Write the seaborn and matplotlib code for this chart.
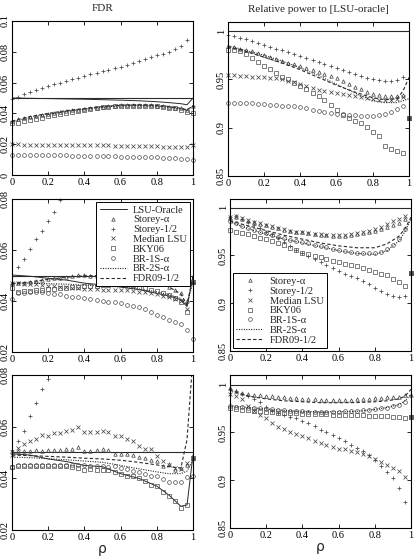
import matplotlib
matplotlib.use('Agg')
import matplotlib.pyplot as plt
from matplotlib.ticker import FuncFormatter
import numpy as np
import seaborn as sns

# correlation grid used for the marker series
rho = [0.0, 0.033, 0.067, 0.1, 0.133, 0.167, 0.2, 0.233, 0.267, 0.3, 0.333,
       0.367, 0.4, 0.433, 0.467, 0.5, 0.533, 0.567, 0.6, 0.633, 0.667, 0.7,
       0.733, 0.767, 0.8, 0.833, 0.867, 0.9, 0.933, 0.967, 1.0]
# coarser grid for the line series
rho_line = [0.0, 0.1, 0.2, 0.3, 0.4, 0.5, 0.6, 0.7, 0.8, 0.867, 0.933, 0.967, 1.0]
nan = np.nan
alpha_level = 0.05

# ---- row 1 : FDR ----
fdr1_storey_a = [0.0350, 0.0362, 0.0370, 0.0378, 0.0385, 0.0391, 0.0398, 0.0405, 0.0410, 0.0415, 0.0420,
                 0.0425, 0.0430, 0.0433, 0.0437, 0.0441, 0.0445, 0.0449, 0.0452, 0.0454, 0.0455, 0.0455,
                 0.0454, 0.0453, 0.0451, 0.0448, 0.0444, 0.0438, 0.0432, 0.0422, 0.0450]
fdr1_storey_h = [0.0495, 0.0509, 0.0523, 0.0537, 0.0551, 0.0564, 0.0578, 0.0589, 0.0600, 0.0610, 0.0621,
                 0.0632, 0.0643, 0.0653, 0.0663, 0.0673, 0.0683, 0.0693, 0.0703, 0.0716, 0.0729, 0.0742,
                 0.0755, 0.0768, 0.0780, 0.0788, 0.0797, 0.0816, 0.0840, 0.0877, 0.0450]
fdr1_median = [0.0199, 0.0199, 0.0198, 0.0198, 0.0197, 0.0197, 0.0197, 0.0196, 0.0196, 0.0195, 0.0195,
               0.0194, 0.0194, 0.0193, 0.0193, 0.0192, 0.0192, 0.0191, 0.0190, 0.0190, 0.0189, 0.0189,
               0.0188, 0.0187, 0.0186, 0.0185, 0.0184, 0.0183, 0.0182, 0.0180, 0.0195]
fdr1_bky = [0.0336, 0.0336, 0.0350, 0.0358, 0.0366, 0.0372, 0.0383, 0.0390, 0.0397, 0.0404, 0.0410,
            0.0415, 0.0422, 0.0428, 0.0434, 0.0440, 0.0444, 0.0448, 0.0450, 0.0451, 0.0451, 0.0450,
            0.0450, 0.0449, 0.0448, 0.0444, 0.0438, 0.0432, 0.0425, 0.0411, 0.0400]
fdr1_br1s = [0.0132, 0.0131, 0.0131, 0.0130, 0.0130, 0.0129, 0.0129, 0.0128, 0.0128, 0.0127, 0.0126,
             0.0126, 0.0125, 0.0124, 0.0124, 0.0123, 0.0122, 0.0121, 0.0120, 0.0119, 0.0118, 0.0117,
             0.0116, 0.0115, 0.0114, 0.0112, 0.0110, 0.0108, 0.0106, 0.0102, 0.0100]
fdr1_oracle = [0.0500, 0.0498, 0.0496, 0.0494, 0.0492, 0.0489, 0.0486, 0.0482, 0.0476, 0.0470, 0.0463, 0.0456, 0.0500]
fdr1_br2s = [0.0345, 0.0375, 0.0395, 0.0413, 0.0427, 0.0440, 0.0450, 0.0452, 0.0448, 0.0440, 0.0430, 0.0420, 0.0448]
fdr1_fdr09 = [0.0350, 0.0380, 0.0400, 0.0418, 0.0432, 0.0444, 0.0453, 0.0455, 0.0452, 0.0445, 0.0433, 0.0423, 0.0450]

# ---- row 1 : relative power ----
pow1_storey_a = [0.985, 0.984, 0.982, 0.981, 0.979, 0.977, 0.975, 0.973, 0.971, 0.969, 0.967,
                 0.9655, 0.964, 0.962, 0.960, 0.958, 0.956, 0.954, 0.951, 0.948, 0.945, 0.942,
                 0.940, 0.937, 0.935, 0.934, 0.933, 0.933, 0.933, 0.934, 0.910]
pow1_storey_h = [0.996, 0.995, 0.993, 0.992, 0.990, 0.988, 0.986, 0.984, 0.982, 0.980, 0.978,
                 0.976, 0.974, 0.972, 0.970, 0.968, 0.966, 0.964, 0.962, 0.960, 0.958, 0.956,
                 0.954, 0.952, 0.950, 0.949, 0.948, 0.948, 0.949, 0.953, 0.910]
pow1_median = [0.955, 0.955, 0.954, 0.954, 0.953, 0.953, 0.953, 0.952, 0.951, 0.950, 0.948,
               0.947, 0.945, 0.943, 0.941, 0.939, 0.938, 0.937, 0.936, 0.935, 0.934, 0.933,
               0.932, 0.931, 0.930, 0.929, 0.929, 0.929, 0.930, 0.932, 0.910]
pow1_bky = [0.981, 0.980, 0.979, 0.976, 0.972, 0.968, 0.964, 0.961, 0.957, 0.953, 0.950,
            0.946, 0.943, 0.940, 0.936, 0.933, 0.929, 0.924, 0.918, 0.913, 0.910, 0.907,
            0.905, 0.901, 0.896, 0.891, 0.881, 0.878, 0.876, 0.874, 0.910]
pow1_br1s = [0.926, 0.926, 0.926, 0.926, 0.926, 0.925, 0.925, 0.924, 0.924, 0.923, 0.923,
             0.922, 0.921, 0.920, 0.918, 0.917, 0.916, 0.915, 0.914, 0.914, 0.913, 0.913,
             0.912, 0.912, 0.912, 0.913, 0.914, 0.916, 0.919, 0.923, 0.910]
pow1_br2s = [0.985, 0.980, 0.975, 0.969, 0.962, 0.954, 0.945, 0.936, 0.928, 0.926, 0.926, 0.928, 0.930]
pow1_fdr09 = [0.984, 0.979, 0.973, 0.967, 0.960, 0.952, 0.944, 0.937, 0.931, 0.929, 0.930, 0.938, 0.952]

# ---- row 2 : FDR (Storey-1/2 leaves the scale above rho ~ 0.27) ----
fdr2_storey_a = [0.0470, 0.0470, 0.0472, 0.0475, 0.0478, 0.0482, 0.0488, 0.0490, 0.0492, 0.0494, 0.0498,
                 0.0502, 0.0501, 0.0500, 0.0500, 0.0500, 0.0501, 0.0501, 0.0502, 0.0501, 0.0500, 0.0492,
                 0.0488, 0.0482, 0.0475, 0.0466, 0.0455, 0.0444, 0.0430, 0.0400, 0.0476]
fdr2_storey_h = [0.0465, 0.0535, 0.0565, 0.0604, 0.0643, 0.0675, 0.0714, 0.0750, 0.0795, nan, nan,
                 nan, nan, nan, nan, nan, nan, nan, nan, nan, nan, nan,
                 nan, nan, nan, nan, nan, nan, nan, nan, 0.0476]
fdr2_median = [0.0470, 0.0470, 0.0468, 0.0467, 0.0465, 0.0463, 0.0460, 0.0458, 0.0456, 0.0454, 0.0452,
               0.0450, 0.0449, 0.0447, 0.0446, 0.0445, 0.0444, 0.0444, 0.0443, 0.0442, 0.0440, 0.0437,
               0.0434, 0.0430, 0.0426, 0.0420, 0.0414, 0.0408, 0.0400, 0.0370, 0.0476]
fdr2_bky = [0.0450, 0.0437, 0.0438, 0.0440, 0.0442, 0.0444, 0.0446, 0.0448, 0.0450, 0.0452, 0.0454,
            0.0456, 0.0458, 0.0459, 0.0460, 0.0462, 0.0464, 0.0465, 0.0466, 0.0465, 0.0462, 0.0456,
            0.0450, 0.0445, 0.0439, 0.0430, 0.0422, 0.0410, 0.0395, 0.0358, 0.0476]
fdr2_br1s = [0.0408, 0.0430, 0.0432, 0.0437, 0.0437, 0.0435, 0.0430, 0.0428, 0.0428, 0.0418, 0.0416,
             0.0414, 0.0412, 0.0408, 0.0404, 0.0399, 0.0397, 0.0395, 0.0392, 0.0386, 0.0379, 0.0375,
             0.0369, 0.0358, 0.0347, 0.0337, 0.0327, 0.0318, 0.0308, 0.0288, 0.0250]
fdr2_oracle = [0.0502, 0.0497, 0.0489, 0.0482, 0.0470, 0.0463, 0.0455, 0.0445, 0.0430, 0.0420, 0.0405, 0.0378, 0.0498]
fdr2_br2s = [0.0470, 0.0470, 0.0468, 0.0466, 0.0462, 0.0458, 0.0455, 0.0447, 0.0436, 0.0425, 0.0410, 0.0385, 0.0476]
fdr2_fdr09 = [0.0468, 0.0475, 0.0485, 0.0493, 0.0499, 0.0500, 0.0501, 0.0492, 0.0474, 0.0455, 0.0428, 0.0385, 0.0498]

# ---- row 2 : relative power ----
pow2_storey_a = [0.989, 0.990, 0.988, 0.986, 0.985, 0.983, 0.9815, 0.980, 0.979, 0.977, 0.976,
                 0.975, 0.974, 0.973, 0.972, 0.9717, 0.971, 0.9706, 0.9706, 0.9708, 0.971, 0.972,
                 0.973, 0.975, 0.976, 0.978, 0.980, 0.982, 0.984, 0.988, 0.932]
pow2_storey_h = [0.990, 0.991, 0.988, 0.985, 0.982, 0.979, 0.975, 0.972, 0.968, 0.964, 0.960,
                 0.956, 0.953, 0.949, 0.946, 0.943, 0.940, 0.937, 0.934, 0.931, 0.928, 0.926,
                 0.923, 0.920, 0.916, 0.913, 0.910, 0.908, 0.906, 0.908, 0.932]
pow2_median = [0.990, 0.991, 0.989, 0.987, 0.985, 0.984, 0.982, 0.981, 0.979, 0.978, 0.976,
               0.975, 0.974, 0.973, 0.972, 0.972, 0.971, 0.971, 0.971, 0.971, 0.972, 0.973,
               0.974, 0.976, 0.978, 0.980, 0.983, 0.986, 0.988, 0.991, 0.932]
pow2_bky = [0.9766, 0.975, 0.9735, 0.972, 0.970, 0.9685, 0.967, 0.965, 0.963, 0.961, 0.958,
            0.9555, 0.953, 0.951, 0.9495, 0.948, 0.9465, 0.9445, 0.943, 0.9415, 0.940, 0.939,
            0.937, 0.935, 0.933, 0.931, 0.929, 0.925, 0.922, 0.918, 0.932]
pow2_br1s = [0.986, 0.984, 0.981, 0.979, 0.977, 0.975, 0.973, 0.971, 0.969, 0.968, 0.966,
             0.965, 0.964, 0.963, 0.961, 0.960, 0.959, 0.957, 0.956, 0.955, 0.954, 0.953,
             0.953, 0.952, 0.952, 0.954, 0.957, 0.961, 0.967, 0.978, 0.932]
pow2_br2s = [0.985, 0.978, 0.972, 0.967, 0.963, 0.959, 0.955, 0.952, 0.951, 0.955, 0.965, 0.975, 0.988]
pow2_fdr09 = [0.986, 0.981, 0.976, 0.971, 0.967, 0.963, 0.960, 0.958, 0.958, 0.962, 0.970, 0.978, 0.990]

# ---- row 3 : FDR (Storey-1/2 leaves the scale above rho ~ 0.2) ----
fdr3_storey_a = [0.0505, 0.0507, 0.0507, 0.0507, 0.0508, 0.0507, 0.0509, 0.0508, 0.0510, 0.0513, 0.0513,
                 0.0521, 0.0507, 0.0507, 0.0510, 0.0513, 0.0510, 0.0496, 0.0496, 0.0494, 0.0492, 0.0483,
                 0.0478, 0.0470, 0.0466, 0.0446, 0.0455, 0.0432, 0.0440, 0.0452, 0.0480]
fdr3_storey_h = [0.0510, 0.0546, 0.0585, 0.0640, 0.0690, 0.0745, 0.0784, nan, nan, nan, nan,
                 nan, nan, nan, nan, nan, nan, nan, nan, nan, nan, nan,
                 nan, nan, nan, nan, nan, nan, nan, nan, 0.0480]
fdr3_median = [0.0490, 0.0518, 0.0531, 0.0546, 0.0552, 0.0566, 0.0562, 0.0575, 0.0575, 0.0584, 0.0588,
               0.0597, 0.0579, 0.0579, 0.0581, 0.0584, 0.0579, 0.0562, 0.0562, 0.0552, 0.0543, 0.0527,
               0.0514, 0.0514, 0.0488, 0.0466, 0.0453, 0.0440, 0.0436, 0.0460, 0.0480]
fdr3_bky = [0.0442, 0.0446, 0.0447, 0.0447, 0.0447, 0.0447, 0.0447, 0.0448, 0.0448, 0.0447, 0.0445,
            0.0440, 0.0434, 0.0435, 0.0434, 0.0434, 0.0433, 0.0425, 0.0415, 0.0410, 0.0410, 0.0403,
            0.0390, 0.0374, 0.0372, 0.0348, 0.0330, 0.0311, 0.0287, 0.0295, 0.0480]
fdr3_br1s = [0.0445, 0.0450, 0.0451, 0.0452, 0.0452, 0.0452, 0.0451, 0.0452, 0.0451, 0.0452, 0.0450,
             0.0452, 0.0450, 0.0448, 0.0446, 0.0446, 0.0445, 0.0446, 0.0440, 0.0435, 0.0430, 0.0425,
             0.0418, 0.0410, 0.0410, 0.0398, 0.0385, 0.0385, 0.0387, 0.0405, 0.0410]
fdr3_oracle = [0.0495, 0.0490, 0.0475, 0.0465, 0.0450, 0.0445, 0.0418, 0.0400, 0.0370, 0.0335, 0.0292, 0.0297, 0.0490]
fdr3_br2s = [0.0482, 0.0480, 0.0476, 0.0472, 0.0467, 0.0462, 0.0450, 0.0437, 0.0425, 0.0418, 0.0418, 0.0428, 0.0470]
fdr3_fdr09 = [0.0490, 0.0488, 0.0485, 0.0482, 0.0478, 0.0475, 0.0470, 0.0462, 0.0452, 0.0445, 0.0440, 0.0550, 0.0870]

# ---- row 3 : relative power ----
pow3_storey_a = [0.9965, 0.993, 0.991, 0.990, 0.9895, 0.989, 0.9884, 0.988, 0.987, 0.9865, 0.986,
                 0.9855, 0.985, 0.9848, 0.9845, 0.9843, 0.9842, 0.984, 0.984, 0.984, 0.9842, 0.9845,
                 0.9848, 0.985, 0.9856, 0.986, 0.9865, 0.987, 0.9875, 0.989, 0.989]
pow3_storey_h = [0.995, 0.993, 0.990, 0.988, 0.985, 0.982, 0.977, 0.972, 0.970, 0.968, 0.966,
                 0.965, 0.962, 0.960, 0.957, 0.953, 0.950, 0.947, 0.944, 0.941, 0.937, 0.934,
                 0.931, 0.926, 0.921, 0.915, 0.909, 0.902, 0.892, 0.877, 0.966]
pow3_median = [0.990, 0.988, 0.985, 0.978, 0.972, 0.968, 0.965, 0.960, 0.956, 0.954, 0.950,
               0.948, 0.946, 0.944, 0.941, 0.939, 0.937, 0.935, 0.933, 0.933, 0.931, 0.929,
               0.927, 0.925, 0.922, 0.919, 0.916, 0.913, 0.910, 0.903, 0.966]
pow3_bky = [0.975, 0.974, 0.9735, 0.973, 0.9725, 0.972, 0.9715, 0.971, 0.9705, 0.970, 0.970,
            0.9698, 0.9695, 0.969, 0.969, 0.969, 0.9688, 0.9685, 0.968, 0.968, 0.968, 0.968,
            0.9678, 0.9675, 0.9672, 0.967, 0.9668, 0.9665, 0.966, 0.9655, 0.966]
pow3_br1s = [0.978, 0.977, 0.9765, 0.976, 0.9755, 0.975, 0.9745, 0.974, 0.9735, 0.973, 0.9725,
             0.972, 0.972, 0.9718, 0.9716, 0.9715, 0.9715, 0.9716, 0.9718, 0.972, 0.9722, 0.9725,
             0.973, 0.9735, 0.974, 0.975, 0.976, 0.9775, 0.979, 0.982, 0.966]
pow3_br2s = [0.978, 0.976, 0.9745, 0.973, 0.972, 0.9715, 0.9716, 0.972, 0.974, 0.976, 0.979, 0.983, 0.990]
pow3_fdr09 = [0.994, 0.988, 0.985, 0.983, 0.982, 0.981, 0.981, 0.9812, 0.982, 0.983, 0.985, 0.988, 0.995]

# relative power of the oracle to itself
pow_oracle_x = [0.0, 1.0]
pow_oracle = [1.0, 1.0]

labels = ['LSU-Oracle', 'Storey-α', 'Storey-1/2', 'Median LSU', 'BKY06',
          'BR-1S-α', 'BR-2S-α', 'FDR09-1/2']

sns.set_style('ticks')
plt.rcParams['font.family'] = ['Liberation Serif', 'DejaVu Serif']
plt.rcParams['axes.linewidth'] = 0.8

W, H = 416, 557
def rect(l, t, r, b):
    return [l / W, 1 - b / H, (r - l) / W, (b - t) / H]

fig = plt.figure(figsize=(4.16, 5.57), dpi=100)

ink = '#2a2a2a'
mink = '#4a4a4a'
mstyle = {
    'Storey-α': dict(marker='^', ms=2.5, mfc='none', mew=0.55),
    'Storey-1/2': dict(marker='+', ms=3.4, mew=0.55),
    'Median LSU': dict(marker='x', ms=2.7, mew=0.55),
    'BKY06': dict(marker='s', ms=2.7, mfc='none', mew=0.5),
    'BR-1S-α': dict(marker='o', ms=2.7, mfc='none', mew=0.5),
}

def draw(ax, kind, oracle, storey_a, storey_h, median, bky, br1s, br2s, fdr09):
    if kind == 'fdr':
        ax.axhline(alpha_level, color=ink, lw=0.8)
        sns.lineplot(x=rho_line, y=oracle, ax=ax, color=ink, lw=0.7, label=labels[0])
    else:
        sns.lineplot(x=pow_oracle_x, y=oracle, ax=ax, color=ink, lw=0.8, label=labels[0])
    for lab, vals in zip(labels[1:6], [storey_a, storey_h, median, bky, br1s]):
        sns.lineplot(x=rho, y=vals, ax=ax, color=mink, linestyle='', mec=mink,
                     clip_on=False, label=lab, **mstyle[lab])
    sns.lineplot(x=rho_line, y=br2s, ax=ax, color=ink, lw=0.8, linestyle=(0, (1, 1.2)), label=labels[6])
    sns.lineplot(x=rho_line, y=fdr09, ax=ax, color=ink, lw=0.8, linestyle=(0, (3, 2)), label=labels[7])

fmt = FuncFormatter(lambda v, p: f'{v:g}')

panels = [
    (rect(12, 21, 193, 175), 'fdr', (0, 0.1), [0, 0.02, 0.04, 0.06, 0.08, 0.1],
     (fdr1_oracle, fdr1_storey_a, fdr1_storey_h, fdr1_median, fdr1_bky, fdr1_br1s, fdr1_br2s, fdr1_fdr09)),
    (rect(228, 22, 409, 176), 'pow', (0.85, 1.0095), [0.85, 0.9, 0.95, 1],
     (pow_oracle, pow1_storey_a, pow1_storey_h, pow1_median, pow1_bky, pow1_br1s, pow1_br2s, pow1_fdr09)),
    (rect(12, 199, 193, 352), 'fdr', (0.02, 0.08), [0.02, 0.04, 0.06, 0.08],
     (fdr2_oracle, fdr2_storey_a, fdr2_storey_h, fdr2_median, fdr2_bky, fdr2_br1s, fdr2_br2s, fdr2_fdr09)),
    (rect(230, 199, 411, 351), 'pow', (0.85, 1.009), [0.85, 0.9, 0.95, 1],
     (pow_oracle, pow2_storey_a, pow2_storey_h, pow2_median, pow2_bky, pow2_br1s, pow2_br2s, pow2_fdr09)),
    (rect(12, 375, 193, 530), 'fdr', (0.02, 0.08), [0.02, 0.04, 0.06, 0.08],
     (fdr3_oracle, fdr3_storey_a, fdr3_storey_h, fdr3_median, fdr3_bky, fdr3_br1s, fdr3_br2s, fdr3_fdr09)),
    (rect(230, 375, 411, 528), 'pow', (0.85, 1.01), [0.85, 0.9, 0.95, 1],
     (pow_oracle, pow3_storey_a, pow3_storey_h, pow3_median, pow3_bky, pow3_br1s, pow3_br2s, pow3_fdr09)),
]

axes = []
for i, (box, kind, ylim, yt, series) in enumerate(panels):
    ax = fig.add_axes(box)
    draw(ax, kind, *series)
    ax.set_xlim(0, 1)
    ax.set_ylim(*ylim)
    ax.set_xticks([0, 0.2, 0.4, 0.6, 0.8, 1])
    ax.set_yticks(yt)
    ax.xaxis.set_major_formatter(fmt)
    ax.yaxis.set_major_formatter(fmt)
    ax.tick_params(direction='in', top=True, right=True, length=3, width=0.6,
                   labelsize=7.5, pad=2, colors='black')
    ax.tick_params(axis='y', labelrotation=90, pad=1.5)
    plt.setp(ax.get_yticklabels(), va='center')
    for s in ax.spines.values():
        s.set_color('black')
    ax.set_xlabel('')
    ax.set_ylabel('')
    if ax.get_legend() is not None:
        ax.get_legend().remove()
    axes.append(ax)

axes[0].set_title('FDR', fontsize=8, pad=7)
axes[1].set_title('Relative power to [LSU-oracle]', fontsize=8, pad=7)
for ax in axes[4:]:
    ax.set_xlabel('ρ', fontsize=10, labelpad=0, family='DejaVu Sans')

leg_kw = dict(fontsize=7.5, frameon=True, fancybox=False, edgecolor='black',
              framealpha=1, borderpad=0.3, labelspacing=0.05, handlelength=2.6,
              handletextpad=0.6, borderaxespad=0.3, numpoints=1)
h, l = axes[2].get_legend_handles_labels()
lg = axes[2].legend(h, l, loc='upper right', **leg_kw)
lg.get_frame().set_linewidth(0.7)
h, l = axes[3].get_legend_handles_labels()
lg = axes[3].legend(h[1:], l[1:], loc='lower left', **leg_kw)
lg.get_frame().set_linewidth(0.7)

fig.savefig('out.png', dpi=100)
